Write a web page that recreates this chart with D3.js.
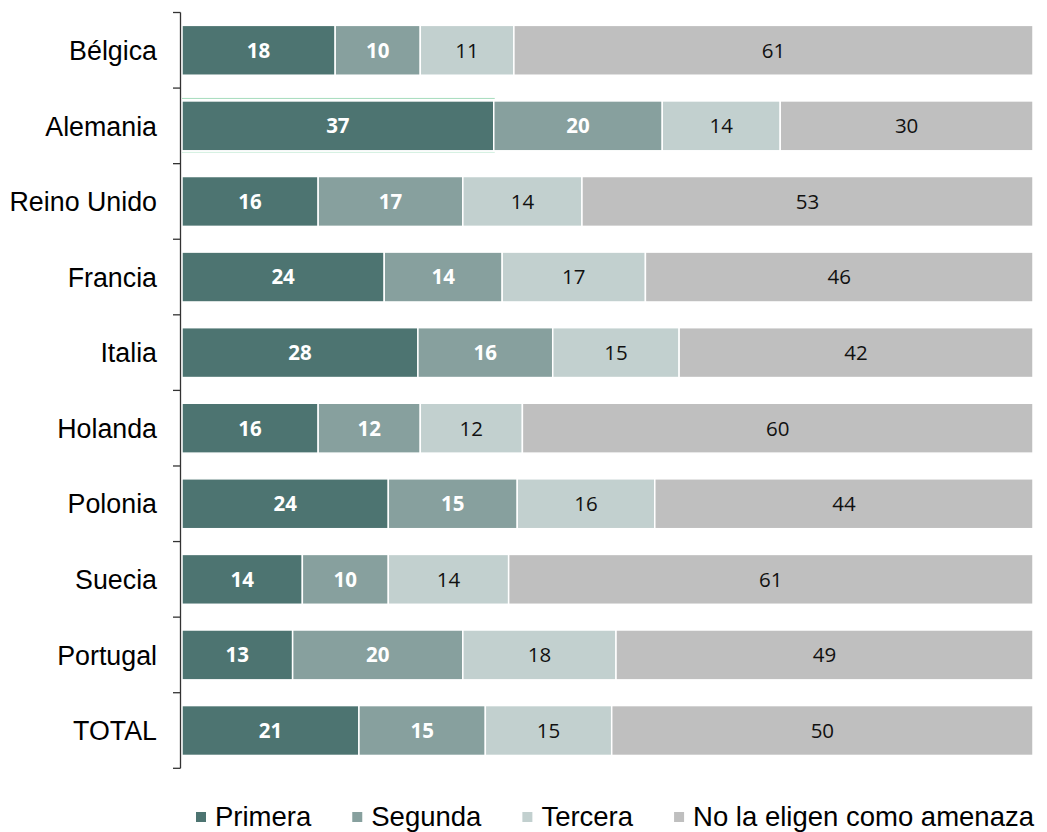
<!DOCTYPE html>
<html>
<head>
<meta charset="utf-8">
<script src="https://cdn.jsdelivr.net/npm/d3@7"></script>
<style>
  html, body { margin: 0; padding: 0; background: #ffffff; }
  svg { display: block; }
</style>
</head>
<body>
<svg id="chart" width="1047" height="832"></svg>
<script>
const categories = ["Bélgica", "Alemania", "Reino Unido", "Francia", "Italia", "Holanda", "Polonia", "Suecia", "Portugal", "TOTAL"];
const seriesNames = ["Primera", "Segunda", "Tercera", "No la eligen como amenaza"];
const primera  = [18, 37, 16, 24, 28, 16, 24, 14, 13, 21];
const segunda  = [10, 20, 17, 14, 16, 12, 15, 10, 20, 15];
const tercera  = [11, 14, 14, 17, 15, 12, 16, 14, 18, 15];
const noEligen = [61, 30, 53, 46, 42, 60, 44, 61, 49, 50];

const seriesValues = [primera, segunda, tercera, noEligen];
const colors = ["#4d7471", "#87a09e", "#c2d0cf", "#bfbfbf"];
const labelFill = ["#ffffff", "#ffffff", "#111111", "#111111"];
const labelWeight = ["bold", "bold", "normal", "normal"];

const rows = categories.map((c, i) => {
  const r = { category: c };
  seriesNames.forEach((s, k) => { r[s] = seriesValues[k][i]; });
  return r;
});

const svg = d3.select("#chart");

const x = d3.scaleLinear().domain([0, 1]).range([182, 1033]);
const y = d3.scaleBand().domain(categories).range([12.5, 768.3])
  .paddingInner(0.34).paddingOuter(0.17);

const stacked = d3.stack().keys(seriesNames).offset(d3.stackOffsetExpand)(rows);

// subtle highlight outline on Alemania first segment (as in reference)
const aleFirst = stacked[0].find(d => d.data.category === "Alemania");
const hl = svg.append("g");
[y("Alemania") - 2.5, y("Alemania") + y.bandwidth() + 1.5].forEach((yy, i) => {
  hl.append("line")
    .attr("x1", x(aleFirst[0])).attr("x2", x(aleFirst[1]) + 1)
    .attr("y1", yy).attr("y2", yy)
    .attr("stroke", i === 0 ? "#a6dcbc" : "#cdeedd").attr("stroke-width", 1);
});

const groups = svg.append("g").selectAll("g")
  .data(stacked).join("g")
  .attr("fill", (d, i) => colors[i]);

groups.selectAll("rect")
  .data(d => d).join("rect")
  .attr("x", d => x(d[0]))
  .attr("y", d => y(d.data.category))
  .attr("width", d => x(d[1]) - x(d[0]))
  .attr("height", y.bandwidth())
  .attr("stroke", "#ffffff")
  .attr("stroke-width", 1.5);

// value labels
const labelsG = svg.append("g");
stacked.forEach((s, k) => {
  labelsG.append("g").selectAll("text")
    .data(s).join("text")
    .attr("x", d => (x(d[0]) + x(d[1])) / 2)
    .attr("y", d => y(d.data.category) + y.bandwidth() / 2)
    .attr("dy", "0.36em")
    .attr("text-anchor", "middle")
    .attr("font-family", "'Open Sans', 'Liberation Sans', sans-serif")
    .attr("font-size", 20.5)
    .attr("font-weight", labelWeight[k])
    .attr("fill", labelFill[k])
    .text(d => d.data[s.key]);
});

// axis
const axisG = svg.append("g").attr("stroke", "#333333").attr("stroke-width", 1.3);
axisG.append("line")
  .attr("x1", 180.5).attr("x2", 180.5)
  .attr("y1", y.range()[0]).attr("y2", y.range()[1]);
d3.range(categories.length + 1).forEach(i => {
  const yy = y.range()[0] + i * y.step();
  axisG.append("line")
    .attr("x1", 173).attr("x2", 180.5)
    .attr("y1", yy).attr("y2", yy);
});

svg.append("g").selectAll("text")
  .data(categories).join("text")
  .attr("x", 157)
  .attr("y", d => y(d) + y.bandwidth() / 2)
  .attr("dy", "0.36em")
  .attr("text-anchor", "end")
  .attr("font-family", "'Liberation Sans', Arial, sans-serif")
  .attr("font-size", 26.8)
  .attr("fill", "#000000")
  .text(d => d);

// legend
const legend = svg.append("g");
let lx = 196;
seriesNames.forEach((name, i) => {
  legend.append("rect")
    .attr("x", lx).attr("y", 812)
    .attr("width", 10).attr("height", 10)
    .attr("fill", colors[i]);
  const t = legend.append("text")
    .attr("x", lx + 19).attr("y", 826)
    .attr("font-family", "'Liberation Sans', Arial, sans-serif")
    .attr("font-size", 27.5)
    .attr("fill", "#000000")
    .text(name);
  lx += 19 + t.node().getComputedTextLength() + 41;
});
</script>
</body>
</html>
